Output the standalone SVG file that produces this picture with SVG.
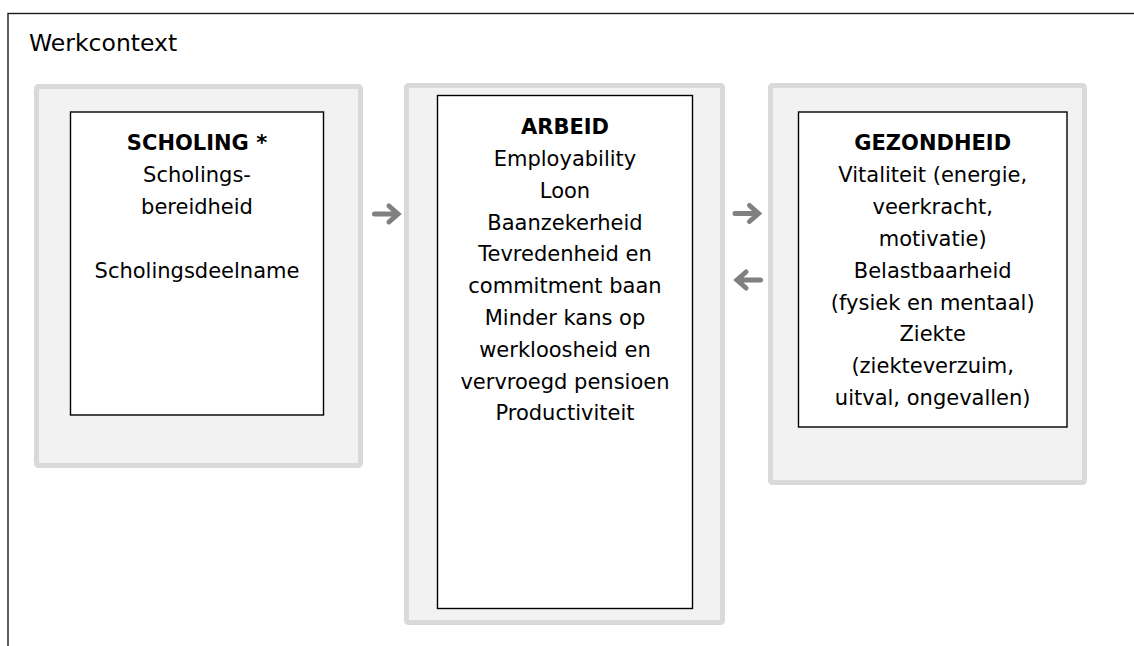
<svg xmlns="http://www.w3.org/2000/svg" width="1134" height="646" viewBox="0 0 1134 646">
<defs>
<style>
.frame{fill:#fff;stroke:#1a1a1a;stroke-width:1.4}
.outer{fill:#f2f2f2;stroke:#d9d9d9;stroke-width:5}
.inner{fill:#fff;stroke:#000;stroke-width:1.4}
text{font-family:"DejaVu Sans","Verdana",sans-serif;font-size:21px;fill:#000;text-anchor:middle}
.b{font-weight:bold}
.title{font-size:23.5px;text-anchor:start}
.arr{fill:none;stroke:#808080;stroke-width:5;stroke-linecap:round;stroke-linejoin:miter}
</style>
</defs>
<rect width="1134" height="646" fill="#fff"/>
<rect class="frame" x="8" y="13.5" width="1140" height="650"/>
<text class="title" x="29" y="51">Werkcontext</text>

<g id="scholing">
<rect class="outer" x="36.5" y="86.5" width="324" height="379" rx="2"/>
<rect class="inner" x="70.5" y="112" width="253" height="303"/>
<text class="b" x="197" y="150">SCHOLING *</text>
<text x="197" y="182">Scholings-</text>
<text x="197" y="214">bereidheid</text>
<text x="197" y="278">Scholingsdeelname</text>
</g>

<g id="arbeid">
<rect class="outer" x="406.5" y="85.5" width="316" height="537" rx="2"/>
<rect class="inner" x="437.5" y="95.5" width="255" height="513"/>
<text class="b" x="565" y="134">ARBEID</text>
<text x="565" y="166">Employability</text>
<text x="565" y="197.8">Loon</text>
<text x="565" y="229.6">Baanzekerheid</text>
<text x="565" y="261.4">Tevredenheid en</text>
<text x="565" y="293.2">commitment baan</text>
<text x="565" y="325">Minder kans op</text>
<text x="565" y="356.8">werkloosheid en</text>
<text x="565" y="388.6">vervroegd pensioen</text>
<text x="565" y="420.4">Productiviteit</text>
</g>

<g id="gezondheid">
<rect class="outer" x="770.5" y="85.5" width="314" height="397" rx="2"/>
<rect class="inner" x="798.5" y="112" width="268.5" height="315"/>
<text class="b" x="932.7" y="150">GEZONDHEID</text>
<text x="932.7" y="181.9">Vitaliteit (energie,</text>
<text x="932.7" y="213.8">veerkracht,</text>
<text x="932.7" y="245.7">motivatie)</text>
<text x="932.7" y="277.6">Belastbaarheid</text>
<text x="932.7" y="309.5">(fysiek en mentaal)</text>
<text x="932.7" y="341.4">Ziekte</text>
<text x="932.7" y="373.3">(ziekteverzuim,</text>
<text x="932.7" y="405.2">uitval, ongevallen)</text>
</g>

<g id="connectors">
<path class="arr" d="M374.5,214 H396 M389,206 L398,214 L389,222"/>
<path class="arr" d="M735,213.5 H756.5 M749.5,205.5 L758.5,213.5 L749.5,221.5"/>
<path class="arr" d="M760.5,280 H739 M746,272 L737,280 L746,288"/>
</g>
</svg>
